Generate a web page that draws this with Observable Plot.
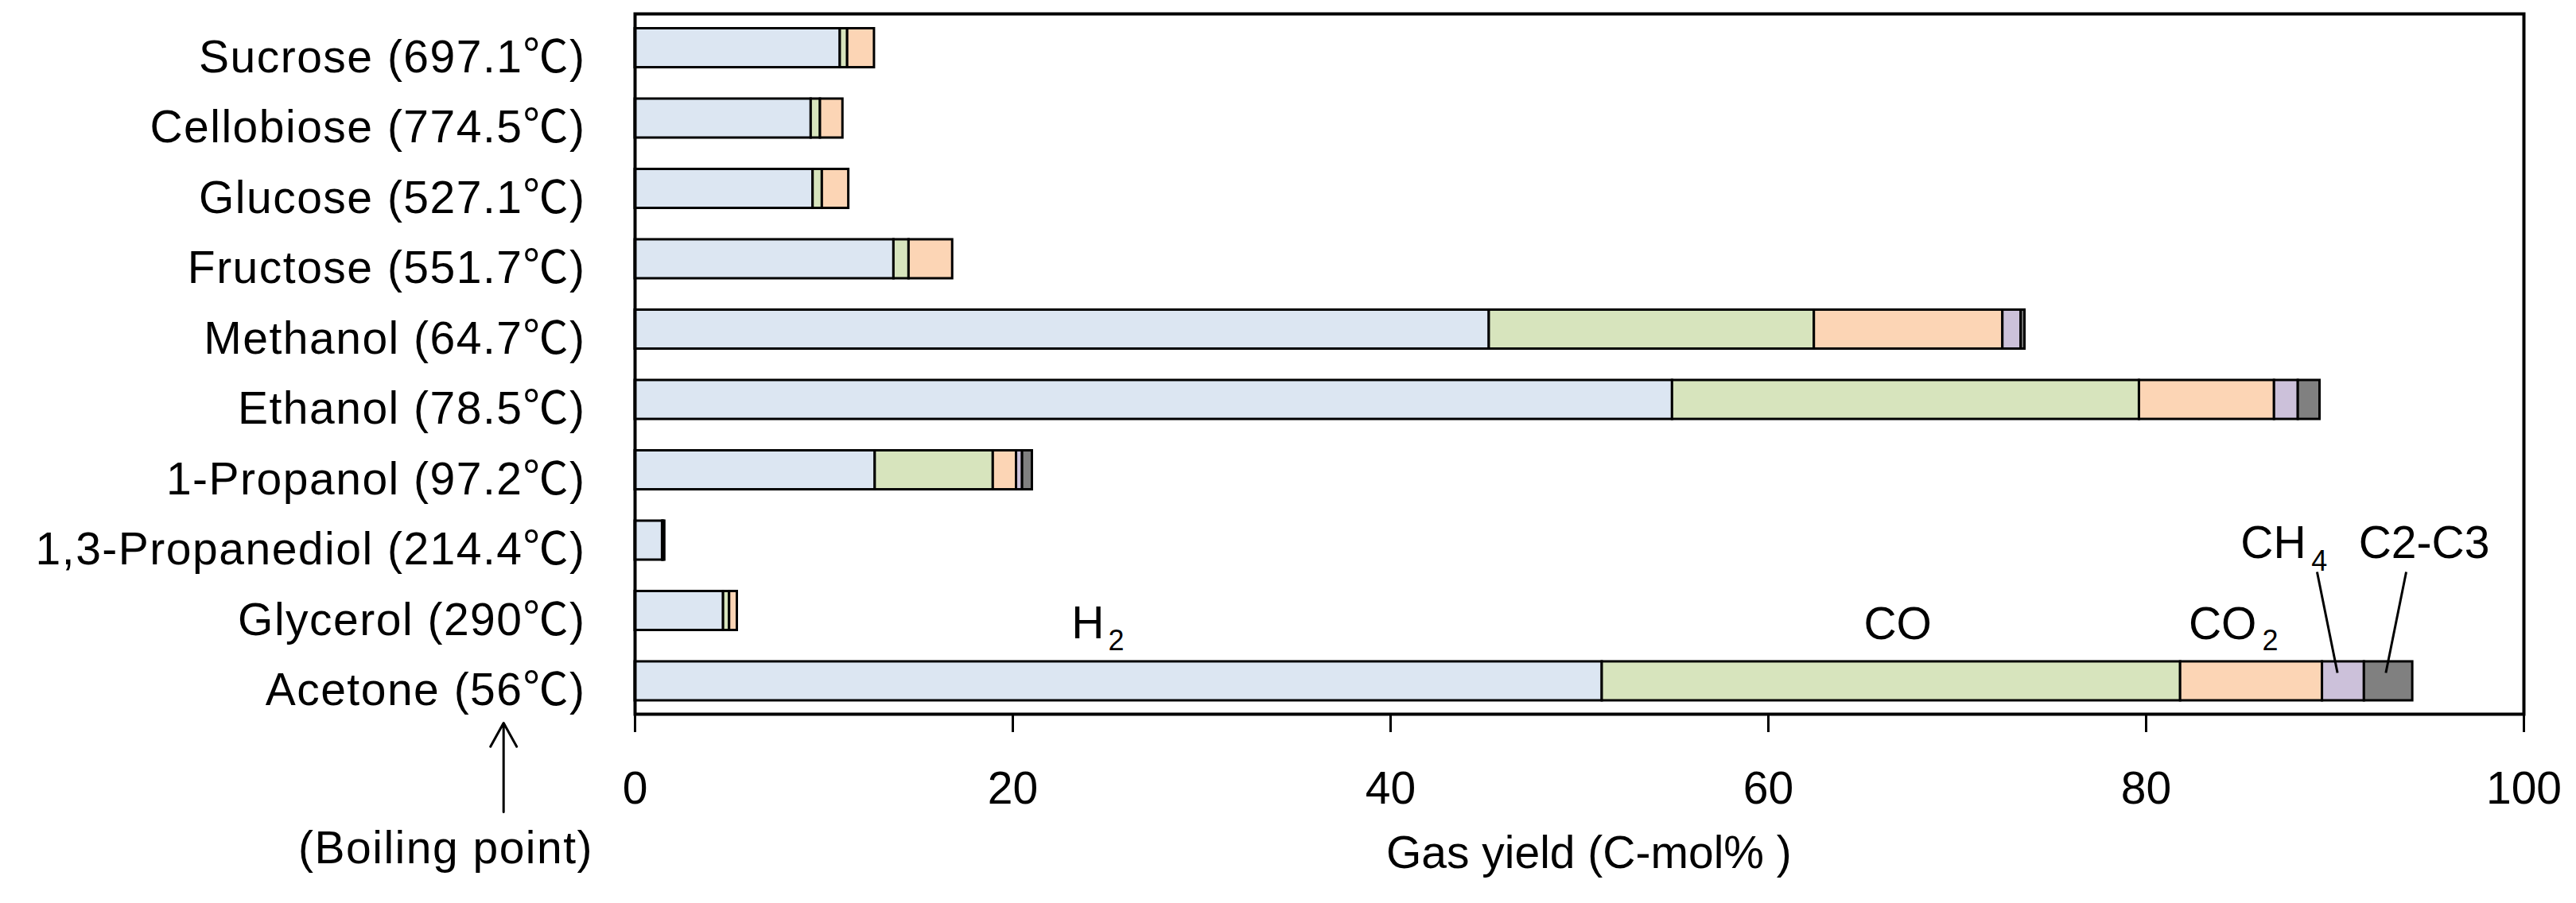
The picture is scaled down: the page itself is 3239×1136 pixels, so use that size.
<!DOCTYPE html>
<html>
<head>
<meta charset="utf-8">
<script src="https://cdn.jsdelivr.net/npm/d3@7"></script>
<script src="https://cdn.jsdelivr.net/npm/@observablehq/plot@0.6"></script>
<style>
html, body { margin: 0; padding: 0; background: #fff; }
#chart svg { display: block; }
#chart g[aria-label="y-axis tick label"] text { letter-spacing: 1.5px; }
#chart g.bp text { letter-spacing: 1.5px; }
</style>
</head>
<body>
<div id="chart"></div>
<script>
// ---- data ----
const categories = [
  "Sucrose (697.1℃)",
  "Cellobiose (774.5℃)",
  "Glucose (527.1℃)",
  "Fructose (551.7℃)",
  "Methanol (64.7℃)",
  "Ethanol (78.5℃)",
  "1-Propanol (97.2℃)",
  "1,3-Propanediol (214.4℃)",
  "Glycerol (290℃)",
  "Acetone (56℃)"
];
const gases = ["H2", "CO", "CO2", "CH4", "C2-C3"];
const h2   = [10.86, 9.32, 9.42, 13.70, 45.22, 54.92, 12.71, 1.45, 4.68, 51.20];
const co   = [0.39, 0.49, 0.49, 0.80, 17.21, 24.72, 6.25, 0.06, 0.32, 30.62];
const co2  = [1.42, 1.19, 1.40, 2.31, 9.98, 7.15, 1.23, 0.06, 0.41, 7.51];
const ch4  = [0, 0, 0, 0, 0.97, 1.26, 0.32, 0, 0, 2.22];
const c2c3 = [0, 0, 0, 0, 0.20, 1.15, 0.52, 0, 0, 2.56];
const gasColors = ["#DCE6F2", "#D7E4BD", "#FCD5B5", "#CCC1DA", "#808080"];
const xTicks = [0, 20, 40, 60, 80, 100];
const xTitle = "Gas yield (C-mol% )";
const yNote = "(Boiling point)";

// ---- stacked table built from the arrays ----
const series = [h2, co, co2, ch4, c2c3];
const rows = [];
categories.forEach((c, i) => {
  let acc = 0;
  series.forEach((s, k) => {
    const v = s[i];
    if (v > 0) {
      rows.push({i, category: c, gas: gases[k], x1: acc, x2: acc + v});
      acc += v;
    }
  });
});

const half = 0.277; // half bar thickness in row units
const font = "'Liberation Sans', Arial, 'Noto Sans CJK JP', sans-serif";

const chart = Plot.plot({
  width: 3239,
  height: 1136,
  marginLeft: 798,
  marginRight: 66,
  marginTop: 17,
  marginBottom: 238,
  style: {fontFamily: font, fontSize: "57px", color: "black", background: "white"},
  x: {domain: [0, 100]},
  y: {domain: [-0.486, 9.469], reverse: true},
  color: {domain: gases, range: gasColors},
  marks: [
    Plot.rect(rows, {
      x1: "x1", x2: "x2",
      y1: d => d.i - half, y2: d => d.i + half,
      fill: "gas", stroke: "black", strokeWidth: 3
    }),
    Plot.axisY(d3.range(categories.length), {
      tickFormat: i => categories[i],
      tickSize: 0, tickPadding: 62, fontSize: 57, dy: 12, label: null
    }),
    Plot.axisX(xTicks, {
      tickSize: 23, tickPadding: 49, fontSize: 57, strokeWidth: 3, label: null
    }),
    // axis title
    Plot.text([xTitle], {x: 50.5, y: 11.66, text: d => d, fontSize: 57,
      textAnchor: "middle", lineAnchor: "bottom"}),
    // boiling point note with arrow
    Plot.text([yNote], {x: -10.02, y: 11.59, text: d => d, fontSize: 57,
      textAnchor: "middle", lineAnchor: "bottom", className: "bp"}),
    Plot.arrow([0], {x1: -6.96, y1: 10.86, x2: -6.96, y2: 9.593,
      stroke: "black", strokeWidth: 3, headLength: 17, headAngle: 58}),
    // series annotations
    Plot.text(["H", "CO", "CO", "CH", "C2-C3"], {
      x: [23.1, 65.05, 82.25, 85.0, 91.25],
      y: [8.392, 8.399, 8.399, 7.251, 7.251],
      text: d => d, fontSize: 57, textAnchor: "start", lineAnchor: "bottom"
    }),
    Plot.text(["2", "2", "4"], {
      x: [25.05, 86.15, 88.75],
      y: [8.557, 8.557, 7.427],
      text: d => d, fontSize: 36, textAnchor: "start", lineAnchor: "bottom"
    }),
    Plot.link([0, 1], {
      x1: [89.05, 93.77], y1: [7.446, 7.446],
      x2: [90.13, 92.69], y2: [8.881, 8.881],
      stroke: "black", strokeWidth: 3
    }),
    Plot.frame({stroke: "black", strokeWidth: 4})
  ]
});
document.getElementById("chart").appendChild(chart);
</script>
</body>
</html>
